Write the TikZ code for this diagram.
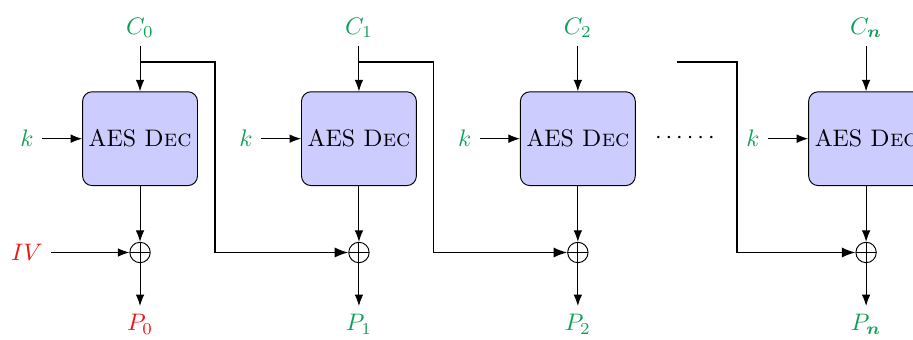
\documentclass[tikz,border=0pt]{standalone}
\usepackage{amsmath,amssymb,bm}
\usepackage{xcolor}
\usepackage{tikz}
\usetikzlibrary{arrows.meta,positioning,calc}
\definecolor{cbgreen}{RGB}{16,158,88}
\definecolor{cbred}{RGB}{240,20,20}

\begin{document}
\begin{tikzpicture}[
  aesbox/.style={draw, rounded corners=4pt, fill=blue!20, inner xsep=1pt, minimum width=1.69cm, minimum height=1.38cm, align=center},
  xorgate/.style={draw, circle, minimum size=0.3cm, inner sep=0pt,
    path picture={\draw (path picture bounding box.north) -- (path picture bounding box.south)
                        (path picture bounding box.west) -- (path picture bounding box.east);}},
  arrow/.style={-Latex},
  feed/.style={-Latex, semithick},
  cipher/.style={text=cbgreen},
  plain/.style={text=cbgreen}
]
  \useasboundingbox (0,0) rectangle (13.43,-5.0);

  % block 0
  \node[aesbox] (d0) at (2.06,-2.04) {AES \textsc{Dec}};
  \node[cipher, above=0.66cm of d0] (c0) {$C_0$};
  \node[plain, left=0.59cm of d0] (k0) {$k$};
  \node[xorgate, below=0.82cm of d0] (x0) {};
  \node[text=cbred, left=1.15cm of x0] (iv) {$IV$};
  \node[text=cbred, below=0.63cm of x0] (p0) {$P_0$};

  % block 1
  \node[aesbox] (d1) at (5.28,-2.04) {AES \textsc{Dec}};
  \node[cipher, above=0.66cm of d1] (c1) {$C_1$};
  \node[plain, left=0.59cm of d1] (k1) {$k$};
  \node[xorgate, below=0.82cm of d1] (x1) {};
  \node[plain, below=0.63cm of x1] (p1) {$P_1$};

  % block 2
  \node[aesbox] (d2) at (8.50,-2.04) {AES \textsc{Dec}};
  \node[cipher, above=0.66cm of d2] (c2) {$C_2$};
  \node[plain, left=0.59cm of d2] (k2) {$k$};
  \node[xorgate, below=0.82cm of d2] (x2) {};
  \node[plain, below=0.63cm of x2] (p2) {$P_2$};

  % block n
  \node[aesbox] (dn) at (12.74,-2.04) {AES \textsc{Dec}};
  \node[cipher, above=0.66cm of dn] (cn) {$C_{\bm{n}}$};
  \node[plain, left=0.59cm of dn] (kn) {$k$};
  \node[xorgate, below=0.82cm of dn] (xn) {};
  \node[plain, below=0.63cm of xn] (pn) {$P_{\bm{n}}$};

  \node (dots) at ($(d2.east)!0.5!(kn.west)$) {$\cdots\cdots$};

  \coordinate (b0) at ([yshift=0.43cm]d0.north);
  \coordinate (b1) at ([yshift=0.43cm]d1.north);
  \coordinate (bs) at ([xshift=-2.78cm,yshift=0.43cm]dn.north);

  \draw[arrow] (c0) -- (d0);
  \draw[arrow] (c1) -- (d1);
  \draw[arrow] (c2) -- (d2);
  \draw[arrow] (cn) -- (dn);
  \draw[arrow] (k0) -- (d0);
  \draw[arrow] (k1) -- (d1);
  \draw[arrow] (k2) -- (d2);
  \draw[arrow] (kn) -- (dn);
  \draw[arrow] (d0) -- (x0);
  \draw[arrow] (d1) -- (x1);
  \draw[arrow] (d2) -- (x2);
  \draw[arrow] (dn) -- (xn);
  \draw[arrow] (x0) -- (p0);
  \draw[arrow] (x1) -- (p1);
  \draw[arrow] (x2) -- (p2);
  \draw[arrow] (xn) -- (pn);
  \draw[arrow] (iv) -- (x0);

  \draw[feed] (b0) -- ++(1.10,0) |- (x1.west);
  \draw[feed] (b1) -- ++(1.10,0) |- (x2.west);
  \draw[feed] (bs) -- ++(0.88,0) |- (xn.west);
\end{tikzpicture}
\end{document}
